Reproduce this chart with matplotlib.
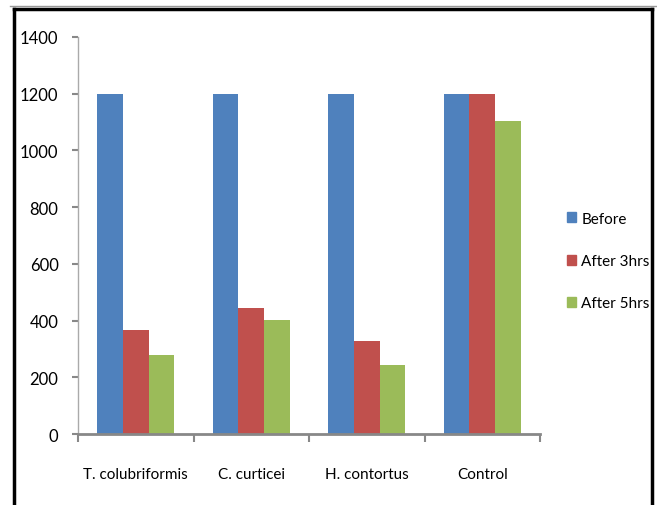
import matplotlib
matplotlib.use("Agg")
import matplotlib.pyplot as plt
import numpy as np
from matplotlib.patches import Rectangle
from matplotlib.lines import Line2D

categories = ["T. colubriformis", "C. curticei", "H. contortus", "Control"]
series_names = ["Before", "After 3hrs", "After 5hrs"]
before = [1200, 1200, 1200, 1200]
after_3hrs = [365, 443, 327, 1200]
after_5hrs = [280, 402, 243, 1103]
y_ticks = [0, 200, 400, 600, 800, 1000, 1200, 1400]

colors = ["#4F81BD", "#C0504D", "#9BBB59"]
plt.rcParams["font.family"] = ["Lato", "DejaVu Sans"]

W, H = 657, 506
fig = plt.figure(figsize=(W / 100, H / 100), dpi=100)
ax = fig.add_axes([78 / W, 1 - 435 / H, (540 - 78) / W, (435 - 38) / H])

x = np.arange(len(categories))
bw = 0.222
for i, (vals, name) in enumerate(zip([before, after_3hrs, after_5hrs], series_names)):
    ax.bar(x + (i - 1) * bw, vals, width=bw, color=colors[i], label=name, linewidth=0)

ax.set_xlim(-0.5, len(categories) - 0.5)
ax.set_ylim(0, 1400)
ax.set_yticks(y_ticks)
ax.set_yticklabels([str(v) for v in y_ticks], fontsize=12)
ax.set_xticks(np.arange(-0.5, len(categories)), minor=False)
ax.set_xticklabels([])
ax.set_xticks(x, minor=True)
ax.set_xticklabels(categories, minor=True, fontsize=11)
ax.tick_params(axis="x", which="minor", length=0, pad=24)
ax.tick_params(axis="x", which="major", length=6, color="#888888", width=1.5)
ax.tick_params(axis="y", length=4, color="#888888", width=1.5, pad=10)

for s in ["top", "right"]:
    ax.spines[s].set_visible(False)
ax.spines["left"].set_color("#aaaaaa")
ax.spines["left"].set_linewidth(1)
ax.spines["bottom"].set_color("#888888")
ax.spines["bottom"].set_linewidth(2)

handles = [Rectangle((0, 0), 1, 1, color=c) for c in colors]
fig.legend(handles, series_names, loc="upper left",
           bbox_to_anchor=(553 / W, 1 - 199 / H), frameon=False,
           fontsize=11, handlelength=0.6, handleheight=0.65,
           handletextpad=0.35, labelspacing=1.85)

# outer frame around the chart area
fig.add_artist(Line2D([14 / W, 14 / W], [0, 1 - 10 / H], transform=fig.transFigure,
                      color="black", linewidth=2.5))
fig.add_artist(Line2D([14 / W, 652 / W], [1 - 10 / H, 1 - 10 / H], transform=fig.transFigure,
                      color="black", linewidth=2.5))
fig.add_artist(Line2D([652 / W, 652 / W], [0, 1 - 10 / H], transform=fig.transFigure,
                      color="black", linewidth=2.5))
fig.add_artist(Line2D([10 / W, 1], [1 - 7 / H, 1 - 7 / H], transform=fig.transFigure,
                      color="#999999", linewidth=1))

fig.savefig("out.png", dpi=100)
